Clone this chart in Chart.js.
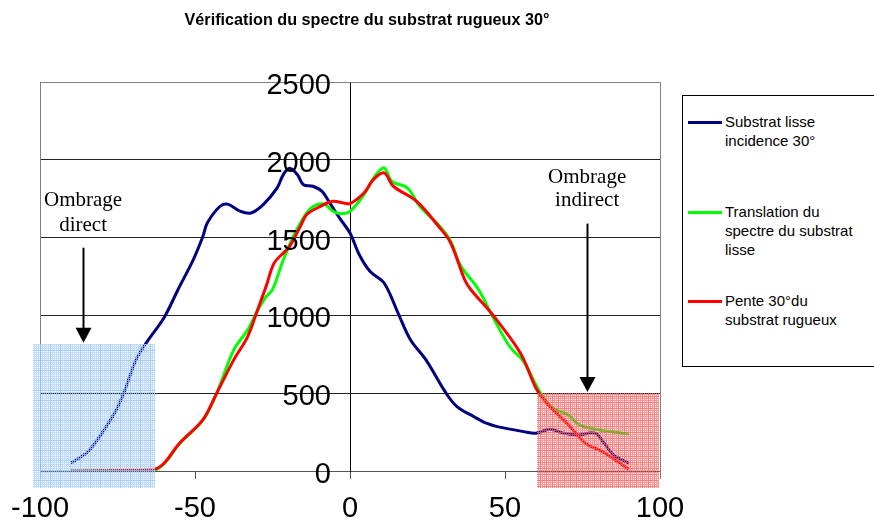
<!DOCTYPE html>
<html><head><meta charset="utf-8">
<script src="https://cdn.jsdelivr.net/npm/chart.js@4/dist/chart.umd.min.js"></script>
<style>
html,body{margin:0;padding:0;background:#fff;overflow:hidden;}
#wrap{position:relative;width:874px;height:528px;overflow:hidden;}
#c{position:absolute;left:0;top:0;}
#legend{position:absolute;left:682px;top:95px;width:210px;height:272px;border:1px solid #000;box-sizing:border-box;background:#fff;font-family:Arial,"Liberation Sans",sans-serif;font-size:15px;line-height:19px;color:#000;}
.item{position:absolute;left:5px;}
.sw{position:absolute;left:0;width:34px;height:3px;}
.tx{position:absolute;left:37px;white-space:nowrap;}
</style>
</head><body>
<div id="wrap">
<canvas id="c" width="874" height="528"></canvas>
<div id="legend"></div>
</div>
<script>
const chartTitle = 'Vérification du spectre du substrat rugueux 30°';
const seriesNames = [['Substrat lisse','incidence 30°'],['Translation du','spectre du substrat','lisse'],['Pente 30°du','substrat rugueux']];
const seriesColors = ['#000080','#00ff00','#ff0000'];
const xTicks = [-100,-50,0,50,100];
const yTicks = [0,500,1000,1500,2000,2500];

const xBlue = [-90,-84,-76,-73,-69,-65.5,-60,-55.5,-50.5,-47.5,-46,-42,-39.5,-35.5,-32,-28,-23.5,-21.5,-19.5,-17,-15,-12,-9,-6.5,-3,0,3,6.5,11,15.5,19.5,24.5,31,34.5,40,44,47.5,56,60,64.5,69,74,79,82,85,90];
const yBlue = [50,135,370,500,715,830,985,1165,1360,1505,1595,1700,1715,1670,1658,1712,1820,1905,1945,1905,1840,1830,1797,1722,1615,1530,1390,1282,1208,1015,843,714,500,414,349,307,285,253,243,268,243,232,243,178,103,50];

const xGreen = [-90,-63.5,-60,-55,-47.5,-43,-37.5,-33,-30,-27,-25,-21.5,-19,-16,-12.5,-8.5,-5.5,-3,0,4.5,8,11,13.5,18.5,22.5,29,32.5,35.5,41.5,46,51.5,56,61.5,65.5,70.5,74,80.5,90];
const yGreen = [0,5,45,175,325,500,778,907,1025,1122,1165,1358,1476,1594,1690,1716,1669,1654,1669,1776,1894,1948,1862,1819,1701,1572,1476,1326,1165,993,800,703,500,403,360,296,264,238];

const xRed = [-90,-63.5,-60,-55,-47.5,-43,-37.5,-33,-30,-27,-24.5,-21.5,-19.5,-16,-14,-9.5,-5.5,-2,0,4.5,7.5,11,14,21.5,29,32.5,37,39,46,55,60,63.5,70,76,81.5,90];
const yRed = [0,10,50,178,328,500,714,864,1025,1190,1336,1401,1443,1572,1647,1701,1733,1722,1718,1787,1872,1916,1830,1733,1562,1465,1229,1165,1004,757,532,436,307,178,124,11];

// annotation regions / arrows (data units)
const shadeDirect = {x0:-102.2, x1:-62.9, y0:-110, y1:817};
const shadeIndirect = {x0:60.4, x1:99.8, y0:-110, y1:503};
const arrowDirect = {x:-86.1, yFrom:1435, yTo:824};
const arrowIndirect = {x:76.5, yFrom:1590, yTo:508};
const labelDirect = {x:-86.1, lines:['Ombrage','direct'], y:[1700,1545]};
const labelIndirect = {x:76.5, lines:['Ombrage','indirect'], y:[1852,1701]};

function pts(xs, ys){ return xs.map((x,i)=>({x:x, y:ys[i]})); }

function makePattern(base, grid, step){
  const t = document.createElement('canvas');
  t.width = step; t.height = step;
  const g = t.getContext('2d');
  for(let i=0;i<step;i++) for(let j=0;j<step;j++){
    if(i===0 || j===0){ g.fillStyle = grid; g.fillRect(i,j,1,1); }
    else if(!(i%2===1 && j%2===1)){ g.fillStyle = base; g.fillRect(i,j,1,1); }
  }
  return g.createPattern(t,'repeat');
}

const overlay = {
  id:'overlay',
  afterDatasetsDraw(chart){
    const ctx = chart.ctx, xs = chart.scales.x, ys = chart.scales.y, a = chart.chartArea;
    ctx.save();
    // plot border (gray)
    ctx.strokeStyle = '#808080'; ctx.lineWidth = 1;
    ctx.beginPath();
    ctx.moveTo(Math.round(a.left)+0.5, Math.round(a.bottom)+8);
    ctx.lineTo(Math.round(a.left)+0.5, Math.round(a.top)+0.5);
    ctx.lineTo(Math.round(a.right)+0.5, Math.round(a.top)+0.5);
    ctx.lineTo(Math.round(a.right)+0.5, Math.round(a.bottom)+8);
    ctx.stroke();
    // y tick labels at the x=0 axis
    const x0 = xs.getPixelForValue(0);
    ctx.fillStyle = '#000';
    ctx.font = '29px Arial,"Liberation Sans",sans-serif';
    ctx.textAlign = 'right'; ctx.textBaseline = 'middle';
    yTicks.forEach(v => ctx.fillText(String(v), x0 - 19, ys.getPixelForValue(v) + 4));
    // shaded areas
    const shade = (s, pat) => {
      const px0 = xs.getPixelForValue(s.x0), px1 = xs.getPixelForValue(s.x1);
      const py0 = ys.getPixelForValue(s.y1), py1 = ys.getPixelForValue(s.y0);
      ctx.fillStyle = pat;
      ctx.fillRect(Math.round(px0), Math.round(py0), Math.round(px1-px0), Math.round(py1-py0));
    };
    shade(shadeDirect, makePattern('rgba(175,210,250,0.8)','rgba(150,195,245,0.85)',10));
    shade(shadeIndirect, makePattern('rgba(255,110,110,0.7)','rgba(255,90,90,0.8)',6));
    // arrows
    const arrow = (ar) => {
      const x = Math.round(xs.getPixelForValue(ar.x))+0.5;
      const yA = ys.getPixelForValue(ar.yFrom), yB = ys.getPixelForValue(ar.yTo);
      ctx.strokeStyle = '#000'; ctx.lineWidth = 2;
      ctx.beginPath(); ctx.moveTo(x, yA); ctx.lineTo(x, yB-12); ctx.stroke();
      ctx.fillStyle = '#000';
      ctx.beginPath(); ctx.moveTo(x-8, yB-15); ctx.lineTo(x+8, yB-15); ctx.lineTo(x, yB); ctx.closePath(); ctx.fill();
    };
    arrow(arrowDirect); arrow(arrowIndirect);
    // labels
    ctx.fillStyle = '#000';
    ctx.font = '21px "Liberation Serif","Times New Roman",serif';
    ctx.textAlign = 'center'; ctx.textBaseline = 'alphabetic';
    [labelDirect, labelIndirect].forEach(l => {
      const x = xs.getPixelForValue(l.x);
      l.lines.forEach((t,i)=> ctx.fillText(t, x, ys.getPixelForValue(l.y[i])));
    });
    // title
    ctx.font = 'bold 17px Arial,"Liberation Sans",sans-serif';
    ctx.fillText(chartTitle, 367, 25, 365);
    ctx.restore();
  }
};

const ctx = document.getElementById('c').getContext('2d');
new Chart(ctx, {
  type:'line',
  data:{ datasets:[
    {label:seriesNames[0].join(' '), data:pts(xBlue,yBlue), borderColor:seriesColors[0], borderWidth:3, pointRadius:0, tension:0.35, order:2},
    {label:seriesNames[1].join(' '), data:pts(xGreen,yGreen), borderColor:seriesColors[1], borderWidth:3, pointRadius:0, tension:0.35, order:1},
    {label:seriesNames[2].join(' '), data:pts(xRed,yRed), borderColor:seriesColors[2], borderWidth:3, pointRadius:0, tension:0.35, order:0}
  ]},
  options:{
    responsive:false, animation:false, events:[],
    layout:{padding:{left:40, top:82, right:214, bottom:0}},
    scales:{
      x:{type:'linear', min:-100, max:100, afterBuildTicks(s){ s.ticks = xTicks.map(v=>({value:v})); },
        afterFit(s){ s.height = 57; s.paddingLeft = 0; s.paddingRight = 0; },
        ticks:{font:{size:29, family:'Arial, "Liberation Sans", sans-serif', lineHeight:1.0}, color:'#000', maxRotation:0, padding:15, callback:v=>String(v)},
        grid:{drawOnChartArea:false, tickLength:8, color:'#555'}, border:{color:'#555', width:1}},
      y:{type:'linear', position:{x:0}, min:0, max:2500, afterBuildTicks(s){ s.ticks = yTicks.map(v=>({value:v})); },
        afterFit(s){ s.paddingTop = 0; s.paddingBottom = 0; },
        ticks:{display:false},
        grid:{color:'#222', tickLength:10, drawTicks:true}, border:{color:'#000', width:1}}
    },
    plugins:{legend:{display:false}, title:{display:false}, tooltip:{enabled:false}}
  },
  plugins:[overlay]
});

// HTML legend
const leg = document.getElementById('legend');
const tops = [26, 116, 205];
seriesNames.forEach((lines,i)=>{
  const it = document.createElement('div'); it.className='item'; it.style.top = tops[i]+'px';
  const sw = document.createElement('div'); sw.className='sw'; sw.style.background = seriesColors[i]; sw.style.top='-1px';
  const tx = document.createElement('div'); tx.className='tx'; tx.style.top='-10px';
  tx.innerHTML = lines.join('<br>');
  it.appendChild(sw); it.appendChild(tx); leg.appendChild(it);
});
</script>
</body></html>
